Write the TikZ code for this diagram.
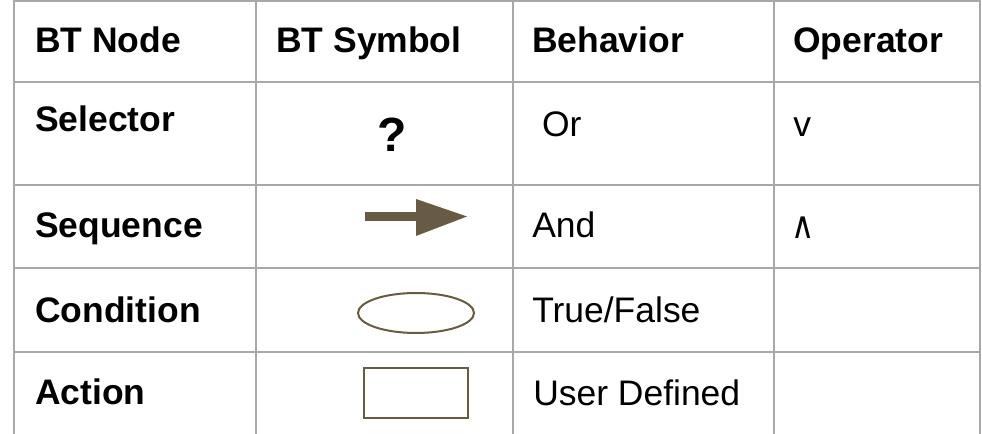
\documentclass[tikz,border=0pt]{standalone}
\usepackage{fontspec}
\setmainfont{Liberation Sans}
\newfontfamily\opfont{DejaVu Sans}
\definecolor{gridgray}{HTML}{A8A8A8}
\definecolor{symbrown}{HTML}{685B43}
\begin{document}
\begin{tikzpicture}[x=0.75pt,y=-0.75pt,
  gridline/.style={draw=gridgray,line width=1.5pt},
  cell/.style={anchor=base west,inner sep=0pt,font={\fontsize{26.6}{32}\selectfont}},
  headcell/.style={cell,font={\fontsize{26.6}{32}\selectfont\bfseries}},
  symline/.style={draw=symbrown,line width=1.5pt},
  symfill/.style={fill=symbrown,draw=none}]
\useasboundingbox (0,0) rectangle (982,434);

% table rules
\foreach \x in {14,256,513,774,980}
  \draw[gridline] (\x,0) -- (\x,434);
\foreach \y in {1,82,185,268,352}
  \draw[gridline] (14,\y) -- (980,\y);

% header row
\node[headcell] (h1) at (35,53) {BT Node};
\node[headcell] (h2) at (276,53) {BT Symbol};
\node[headcell] (h3) at (532,53) {Behavior};
\node[headcell] (h4) at (793,53) {Operator};

% first column
\node[headcell] (n1) at (35,132) {Selector};
\node[headcell] (n2) at (35,238) {Sequence};
\node[headcell] (n3) at (35,323) {Condition};
\node[headcell] (n4) at (35,405) {Action};

% behaviour column
\node[cell] (b1) at (532,137) {\ Or};
\node[cell] (b2) at (532,238) {And};
\node[cell] (b3) at (532,323) {True/False};
\node[cell] (b4) at (533,406) {User Defined};

% operator column
\node[cell] (o1) at (793,137) {v};
\node[cell,font={\opfont\fontsize{28}{32}\selectfont},xscale=0.85] (o2) at (791,239) {∧};

% symbols
\node[anchor=base,inner sep=0pt,font={\fontsize{36}{40}\selectfont\bfseries}] (s1) at (392,152) {?};
\fill[symfill] (365,212) rectangle (417,221);
\fill[symfill] (416,199) -- (467,216.5) -- (416,236) -- cycle;
\draw[symline] (416,313) ellipse [x radius=58,y radius=20];
\draw[symline] (364,368) rectangle (468,418);
\end{tikzpicture}
\end{document}
